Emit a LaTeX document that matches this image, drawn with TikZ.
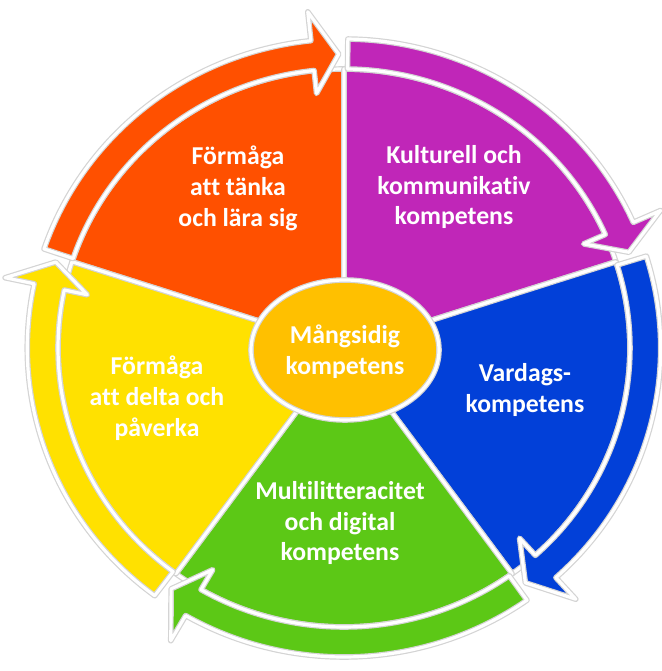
\documentclass[tikz,border=0pt]{standalone}
\usepackage{fontspec}
\setmainfont{Carlito}[Ligatures=NoCommon]
\definecolor{formagaorange}{RGB}{255,80,0}
\definecolor{kulturpurple}{RGB}{192,38,184}
\definecolor{vardagblue}{RGB}{2,64,216}
\definecolor{multigreen}{RGB}{92,200,22}
\definecolor{deltayellow}{RGB}{255,225,0}
\definecolor{mangsidigamber}{RGB}{255,192,0}
\definecolor{rimgray}{RGB}{212,212,212}

\begin{document}
\begin{tikzpicture}[x=0.75pt,y=0.75pt,
    rim/.style={draw=rimgray, double=white, double distance=2.4pt, line width=0.9pt, line join=round},
    wheeltext/.style={text=white, font=\fontsize{19.3}{23.2}\selectfont\bfseries, align=center}]
  \useasboundingbox (-344,-323) rectangle (317,348);
  \begin{scope}[xscale=1.025]
    %% wedges
    \filldraw [rim, fill=formagaorange] (0,0) -- (90:279) arc (90:162:279) -- cycle;
    \filldraw [rim, fill=kulturpurple] (0,0) -- (18:279) arc (18:90:279) -- cycle;
    \filldraw [rim, fill=vardagblue] (0,0) -- (-54:279) arc (-54:18:279) -- cycle;
    \filldraw [rim, fill=multigreen] (0,0) -- (-126:279) arc (-126:-54:279) -- cycle;
    \filldraw [rim, fill=deltayellow] (0,0) -- (162:279) arc (162:234:279) -- cycle;
    %% arrows
    \filldraw [rim, fill=formagaorange] (161.3:309) arc (161.3:96:309) -- (96:338)
      -- (91:294) -- (96:256) -- (96:279) arc (96:161.3:279) -- cycle;
    \filldraw [rim, fill=kulturpurple] (89.3:309) arc (89.3:24:309) -- (24:338)
      -- (19:294) -- (24:256) -- (24:279) arc (24:89.3:279) -- cycle;
    \filldraw [rim, fill=vardagblue] (17.3:309) arc (17.3:-48:309) -- (-48:338)
      -- (-53:294) -- (-48:256) -- (-48:279) arc (-48:17.3:279) -- cycle;
    \filldraw [rim, fill=multigreen] (-54.7:309) arc (-54.7:-120:309) -- (-120:338)
      -- (-125:294) -- (-120:256) -- (-120:279) arc (-120:-54.7:279) -- cycle;
    \filldraw [rim, fill=deltayellow] (233.3:309) arc (233.3:168:309) -- (168:338)
      -- (163:294) -- (168:256) -- (168:279) arc (168:233.3:279) -- cycle;
  \end{scope}
  %% centre
  \filldraw [rim, fill=mangsidigamber] (1,-2) ellipse [x radius=94, y radius=70];
  \node (mangsidig) [wheeltext] at (1,-4) {Mångsidig\\kompetens};
  %% labels
  \node (tanka) [wheeltext] at (-106,160) {Förmåga\\att tänka\\och lära sig};
  \node (kultur) [wheeltext] at (110,161) {Kulturell och\\kommunikativ\\kompetens};
  \node (vardag) [wheeltext] at (181,-42) {Vardags-\\kompetens};
  \node (multi) [wheeltext] at (-4,-175) {Multilitteracitet\\och digital\\kompetens};
  \node (delta) [wheeltext] at (-187,-50) {Förmåga\\att delta och\\påverka};
\end{tikzpicture}
\end{document}
